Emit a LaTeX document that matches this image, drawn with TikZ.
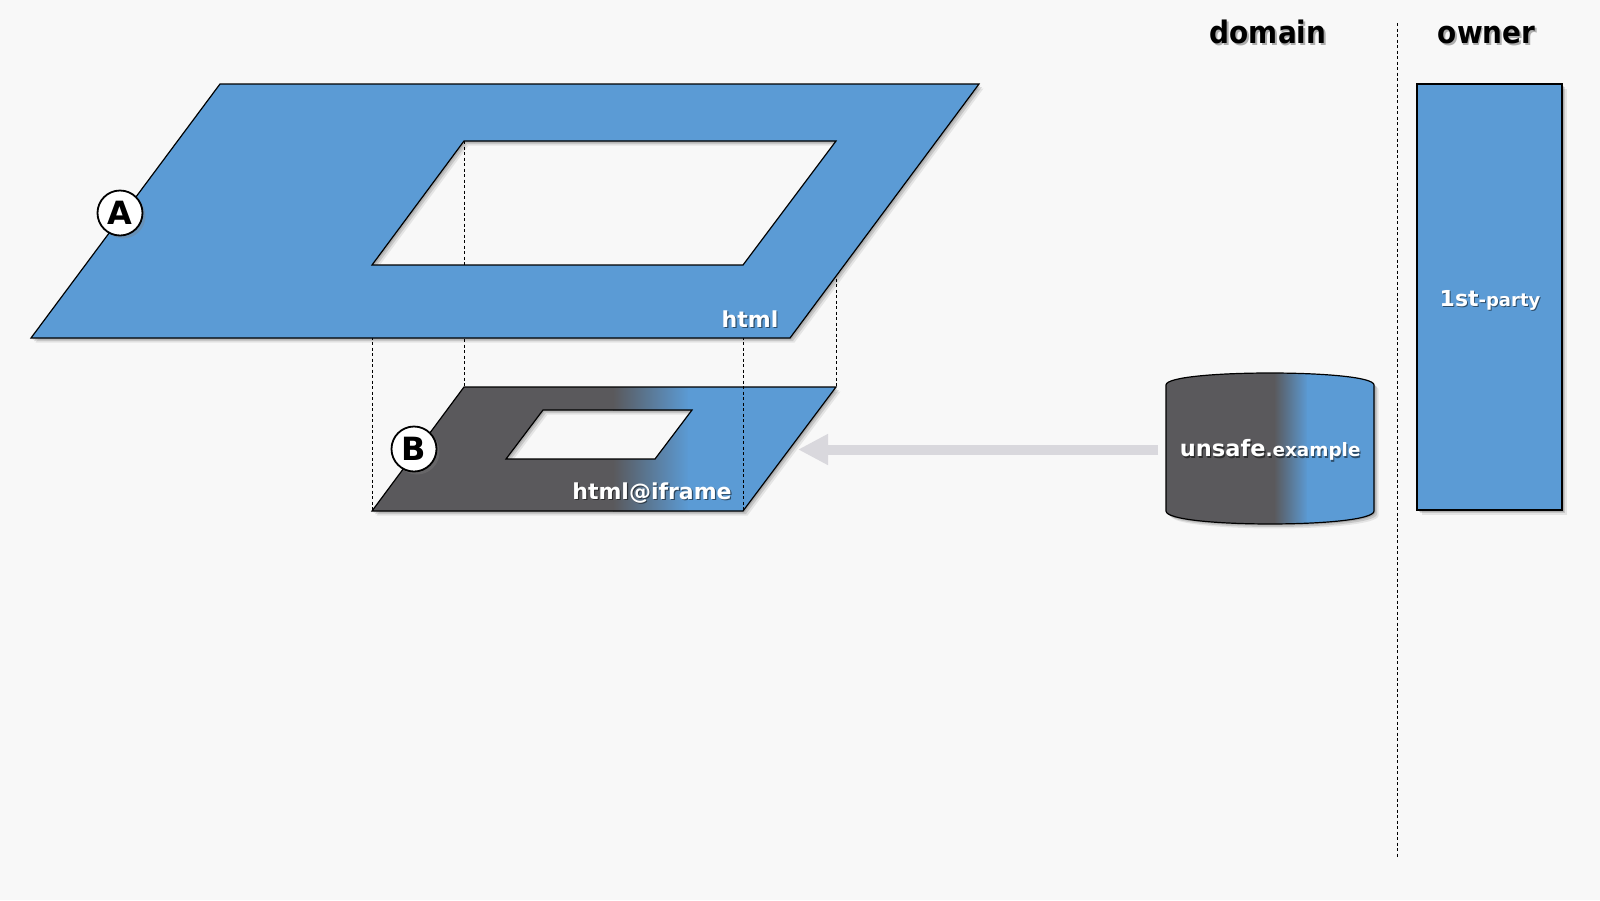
\documentclass[tikz,border=0pt]{standalone}
\usepackage{fontspec}
\setmainfont{DejaVu Sans}
\newfontfamily\hdfont[FakeStretch=0.9]{DejaVu Sans}
\usetikzlibrary{arrows.meta,shadows}
\definecolor{bg}{RGB}{248,248,248}
\definecolor{ablue}{RGB}{91,155,213}
\definecolor{adark}{RGB}{90,89,92}
\definecolor{agray}{RGB}{217,216,221}
\newcommand\softshadow[1]{%
  \foreach \shd/\opc in {1.5/0.13,3/0.12,4.5/0.08}{%
    \begin{scope}[transform canvas={xshift=\shd pt,yshift=-\shd pt}]
      \fill[black,opacity=\opc,even odd rule] #1;
    \end{scope}}}
\tikzset{
  outline/.style={draw=black, line width=1.2pt},
  guide/.style={draw=black, line width=0.8pt, dash pattern=on 3pt off 2.5pt},
  marker/.style={circle, draw=black, line width=1.8pt, fill=white, minimum size=45pt,
    inner sep=0pt, font=\bfseries\fontsize{32}{32}\selectfont,
    drop shadow={shadow xshift=3pt, shadow yshift=-3pt, opacity=0.35}},
  wlabel/.style={text=white, anchor=base, inner sep=0pt},
  tshadow/.style={text=black, text opacity=0.5, anchor=base, inner sep=0pt},
  hshadow/.style={text=black, text opacity=0.3, anchor=base, inner sep=0pt},
  wfont/.style={font=\bfseries\fontsize{22}{22}\selectfont},
  hfont/.style={font=\hdfont\bfseries\fontsize{31}{31}\selectfont},
}
\begin{document}
\begin{tikzpicture}[x=1pt,y=-1pt]
\fill[bg] (0,0) rectangle (1600,900);
\useasboundingbox (0,0) rectangle (1600,900);

% big frame (A)
\coordinate (oA) at (31,338);  \coordinate (oB) at (220,84);
\coordinate (oC) at (979,84);  \coordinate (oD) at (790,338);
\coordinate (hA) at (372,265); \coordinate (hB) at (464,141);
\coordinate (hC) at (836,141); \coordinate (hD) at (743,265);
% small frame (B)
\coordinate (sA) at (372,511); \coordinate (sB) at (464,387);
\coordinate (sC) at (836,387); \coordinate (sD) at (743,511);
\coordinate (tA) at (506,459); \coordinate (tB) at (543,410);
\coordinate (tC) at (692,410); \coordinate (tD) at (655,459);

% small frame
\softshadow{(sA)--(sB)--(sC)--(sD)--cycle (tA)--(tB)--(tC)--(tD)--cycle}
\begin{scope}[even odd rule]
  \clip (sA)--(sB)--(sC)--(sD)--cycle (tA)--(tB)--(tC)--(tD)--cycle;
  \fill[adark] (360,380) rectangle (614,520);
  \fill[left color=adark, right color=ablue] (613,380) rectangle (689,520);
  \fill[ablue] (688,380) rectangle (850,520);
\end{scope}
\draw[outline] (sA)--(sB)--(sC)--(sD)--cycle (tA)--(tB)--(tC)--(tD)--cycle;

% projection guides
\draw[guide] (hB) -- (sB);
\draw[guide] (hC) -- (sC);
\draw[guide] (hA) -- (sA);
\draw[guide] (hD) -- (sD);

% big frame
\softshadow{(oA)--(oB)--(oC)--(oD)--cycle (hA)--(hB)--(hC)--(hD)--cycle}
\filldraw[fill=ablue, outline, even odd rule]
  (oA)--(oB)--(oC)--(oD)--cycle (hA)--(hB)--(hC)--(hD)--cycle;

% labels
\node[tshadow, wfont] (htmlS) at (751.2,328.2) {html};
\node[wlabel, wfont] (htmlL) at (750,327) {html};
\node[tshadow, wfont] (ifrS) at (653.2,500.7) {html@iframe};
\node[wlabel, wfont] (ifrL) at (652,499.5) {html@iframe};

\node[marker] (mA) at (120,213) {A};
\node[marker] (mB) at (414,449) {B};

% domain cylinder
\softshadow{(1166,385) -- (1166,511) .. controls (1166,528.3) and (1374,528.3) .. (1374,511) -- (1374,385) .. controls (1374,369) and (1166,369) .. (1166,385) -- cycle}
\begin{scope}
  \clip (1166,385) -- (1166,511) .. controls (1166,528.3) and (1374,528.3) .. (1374,511) -- (1374,385) .. controls (1374,369) and (1166,369) .. (1166,385) -- cycle;
  \fill[adark] (1160,360) rectangle (1275,530);
  \fill[left color=adark, right color=ablue] (1274,360) rectangle (1308,530);
  \fill[ablue] (1307,360) rectangle (1380,530);
\end{scope}
\draw[outline] (1166,385) -- (1166,511) .. controls (1166,528.3) and (1374,528.3) .. (1374,511) -- (1374,385) .. controls (1374,369) and (1166,369) .. (1166,385) -- cycle;
\node[tshadow] (cylS) at (1271.4,458)
  {{\bfseries\fontsize{22.5}{23}\selectfont unsafe}{\bfseries\fontsize{18.4}{19}\selectfont.example}};
\node[wlabel] (cylL) at (1270.2,456.8)
  {{\bfseries\fontsize{22.5}{23}\selectfont unsafe}{\bfseries\fontsize{18.4}{19}\selectfont.example}};

% request arrow
\coordinate (cylW) at (1158,449.5);
\coordinate (smallE) at (798,449.5);
\draw[agray, line width=10pt, -{Triangle[length=30pt,width=29pt]}] (cylW) -- (smallE);

% owner
\softshadow{(1417,84) rectangle (1562,510)}
\filldraw[fill=ablue, outline] (1417,84) rectangle (1562,510);
\node[tshadow] (ownS) at (1491,307.2)
  {{\bfseries\fontsize{22}{22}\selectfont 1st}{\bfseries\fontsize{18}{18}\selectfont -party}};
\node[wlabel] (ownL) at (1490,306)
  {{\bfseries\fontsize{22}{22}\selectfont 1st}{\bfseries\fontsize{18}{18}\selectfont -party}};

% column separator and headers
\coordinate (sepT) at (1397,23);
\coordinate (sepB) at (1397,857);
\draw[guide] (sepT) -- (sepB);
\node[hshadow, hfont] (domS) at (1269.8,45.3) {domain};
\node[anchor=base, inner sep=0pt, hfont] (domL) at (1268,43.5) {domain};
\node[hshadow, hfont] (ownHS) at (1488.5,45.3) {owner};
\node[anchor=base, inner sep=0pt, hfont] (ownH) at (1486.7,43.5) {owner};
\end{tikzpicture}
\end{document}
